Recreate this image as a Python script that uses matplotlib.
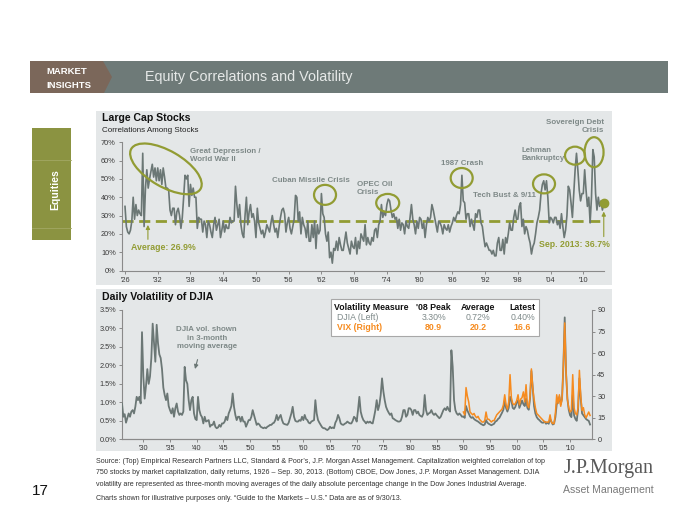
import numpy as np
import matplotlib
matplotlib.use("Agg")
import matplotlib.pyplot as plt
from matplotlib.patches import Rectangle, Polygon, Ellipse
import matplotlib.transforms as mtrans

# ---------------- data ----------------
corr_start = 1926.0          # quarterly values, % correlation among large caps
corr_values = [
    35, 24, 21, 20,  22, 27, 40, 28,  36, 30, 33, 31,  30, 64, 24, 45,
    55, 45, 50, 54,  58, 51, 56, 49,  56, 49, 55, 47,  56, 51, 45, 45,
    44, 33, 30, 34,  34, 25, 32, 34,  30, 23, 29, 40,  52, 50, 52, 35,
    47, 41, 45, 40,  40, 23, 29, 28,                                     # 1926-1939
    28, 21, 27, 25,  18, 27, 25, 21,  18, 25, 29, 22,  25, 28, 18, 22,
    27, 21, 25, 23,  23, 29, 26, 27,  27, 46, 36, 29,  36, 25, 20, 18,
    30, 40, 25, 32,  36, 29, 31, 27,                                     # 1940-1949
    18, 34, 26, 23,  20, 22, 18, 21,  25, 23, 21, 26,  30, 25, 21, 23,
    18, 24, 29, 33,  34, 31, 21, 26,  29, 23, 20, 24,  28, 41, 40, 27,
    32, 20, 29, 25,  23, 18, 27, 16,                                     # 1950-1959
    16, 25, 18, 27,  12, 25, 20, 22,  42, 31, 29, 20,  16, 21, 7, 10,
    4, 12, 11, 16,   11, 18, 14, 11,  11, 16, 21, 15,  12, 9, 16, 13,
    12, 18, 9, 16,   12, 20, 18, 16,                                     # 1960-1969
    25, 14, 18, 15,  14, 18, 16, 22,  23, 18, 25, 27,  36, 29, 32, 30,
    36, 39, 38, 33,  29, 31, 28, 29,  23, 28, 22, 26,  25, 20, 27, 24,
    23, 29, 36, 28,  25, 20, 27, 23,                                     # 1970-1979
    29, 28, 23, 26,  18, 25, 29, 27,  29, 36, 33, 29,  25, 21, 27, 26,
    24, 20, 25, 23,  22, 25, 21, 24,  26, 29, 27, 30,  32, 31, 36, 52,
    38, 37, 28, 31,  31, 24, 28, 25,                                     # 1980-1989
    22, 31, 29, 33,  33, 26, 24, 18,  13, 15, 13, 11,  11, 9, 11, 8,
    8, 15, 18, 11,   11, 17, 9, 18,   15, 20, 26, 22,  22, 29, 33, 28,
    28, 35, 37, 24,  28, 20, 24, 22,                                     # 1990-1999
    18, 15, 9, 13,   15, 20, 26, 29,  33, 42, 47, 49,  44, 49, 40, 26,
    29, 28, 26, 29,  29, 25, 27, 23,  31, 24, 18, 22,  30, 46, 44, 37,
    29, 42, 55, 64,  55, 44, 38, 42,                                     # 2000-2009
    42, 55, 44, 35,  40, 26, 40, 66,  62, 42, 33, 40,  35, 38, 33, 36.7, # 2010-2013
]
corr_average = 26.9
corr_latest = 36.7
corr_latest_label = "Sep. 2013: 36.7%"
corr_ticks = list(range(1926, 2011, 6))
corr_yticks = [0, 10, 20, 30, 40, 50, 60, 70]

vol_start = 1926.0           # quarterly, DJIA daily vol (3-month avg), %
vol_values = [
    0.97, 0.61, 0.68, 0.45,  0.57, 0.70, 0.61, 0.75,  0.79, 0.70, 0.88, 1.15,
    1.06, 1.15, 0.97, 2.90,  1.70, 1.10, 1.45, 1.90,  1.50, 1.70, 2.20, 3.13,
    2.60, 2.10, 3.10, 2.60,  2.30, 2.20, 1.90, 1.40,  1.20, 1.06, 1.24, 0.90,
    0.79, 0.70, 0.84, 0.61,  0.84, 0.97, 0.75, 0.66,  0.70, 0.66, 0.75, 1.96,
    1.60, 1.50, 1.06, 0.79,  1.06, 1.15, 0.70, 0.55,                    # 1926-1939
    0.52, 1.15, 0.79, 0.66,  0.60, 0.43, 0.61, 0.48,  0.50, 0.52, 0.34, 0.39,
    0.39, 0.48, 0.34, 0.30,  0.32, 0.39, 0.34, 0.43,  0.43, 0.48, 0.61, 0.52,
    0.70, 0.79, 0.90, 1.24,  0.88, 0.66, 0.52, 0.61,  0.61, 0.48, 0.61, 0.48,
    0.48, 0.34, 0.43, 0.52,                                              # 1940-1949
    0.52, 0.61, 0.79, 0.66,  0.52, 0.39, 0.43, 0.40,  0.34, 0.32, 0.30, 0.32,
    0.30, 0.34, 0.36, 0.39,  0.39, 0.43, 0.45, 0.52,  0.66, 0.52, 0.60, 0.66,
    0.52, 0.43, 0.41, 0.40,  0.39, 0.45, 0.57, 0.70,  0.88, 0.61, 0.50, 0.48,
    0.48, 0.52, 0.50, 0.61,                                              # 1950-1959
    0.52, 0.66, 0.55, 0.52,  0.45, 0.43, 0.48, 0.50,  0.52, 1.06, 0.70, 0.52,
    0.45, 0.39, 0.33, 0.30,  0.30, 0.27, 0.25, 0.28,  0.34, 0.30, 0.32, 0.30,
    0.45, 0.52, 0.66, 0.57,  0.43, 0.40, 0.39, 0.42,  0.44, 0.48, 0.45, 0.43,
    0.43, 0.50, 0.61, 0.57,                                              # 1960-1969
    0.48, 0.79, 1.15, 0.75,  0.61, 0.52, 0.48, 0.43,  0.48, 0.45, 0.48, 0.44,
    0.43, 0.60, 0.79, 1.06,  0.79, 0.93, 1.20, 1.65,  1.30, 1.06, 0.88, 0.79,
    0.72, 0.66, 0.70, 0.57,  0.55, 0.52, 0.50, 0.48,  0.48, 0.50, 0.61, 0.79,
    0.79, 0.61, 0.66, 0.84,                                              # 1970-1979
    0.84, 0.79, 0.66, 0.79,  0.79, 0.70, 0.75, 0.66,  0.63, 0.61, 0.70, 1.20,
    0.79, 0.66, 0.70, 0.72,  0.79, 0.70, 0.66, 0.70,  0.65, 0.61, 0.57, 0.61,
    0.70, 0.79, 0.84, 0.79,  0.88, 0.80, 0.75, 2.41,  1.96, 1.06, 0.79, 0.70,
    0.66, 0.70, 0.66, 0.61,                                              # 1980-1989
    0.62, 0.58, 0.90, 0.78,  0.70, 0.62, 0.58, 0.60,  0.55, 0.52, 0.50, 0.48,
    0.45, 0.42, 0.40, 0.38,  0.40, 0.52, 0.45, 0.42,  0.40, 0.38, 0.40, 0.42,
    0.48, 0.50, 0.55, 0.58,  0.65, 0.72, 0.80, 1.05,  0.85, 0.75, 0.85, 1.15,
    1.05, 0.85, 0.82, 0.88,                                              # 1990-1999
    1.00, 1.05, 0.85, 0.95,  1.05, 0.95, 0.90, 1.10,  0.85, 0.80, 1.10, 1.85,
    1.40, 0.90, 0.70, 0.60,  0.55, 0.52, 0.48, 0.45,  0.45, 0.48, 0.42, 0.45,
    0.42, 0.55, 0.48, 0.40,  0.42, 0.60, 0.95, 1.00,  1.15, 0.95, 1.10, 2.00,
    3.30, 1.80, 1.10, 0.80,                                              # 2000-2009
    0.65, 0.60, 1.20, 0.65,  0.55, 0.50, 0.80, 1.65,  1.10, 0.70, 0.65, 0.60,
    0.55, 0.52, 0.50, 0.40,                                              # 2010-2013
]
vix_start = 1990.0           # quarterly VIX level
vix_values = [
    19, 17, 36, 30,  26, 19, 18, 17,  18, 16, 15, 16,  14, 13, 12, 12,
    13, 19, 14, 14,  13, 12, 13, 13,  15, 17, 18, 19,  20, 21, 24, 31,
    24, 21, 26, 45,  29, 25, 24, 25,                                     # 1990-1999
    27, 31, 24, 28,  29, 33, 26, 38,  24, 22, 30, 49,  36, 28, 22, 18,
    17, 16, 15, 14,  13, 12, 12, 12,  12, 17, 12, 11,  11, 18, 31, 25,
    31, 23, 28, 52,  81, 47, 28, 22,                                     # 2000-2009
    19, 20, 45, 22,  18, 17, 22, 48,  30, 20, 22, 17,  15, 17, 19, 16.6, # 2010-2013
]
vol_ticks = list(range(1930, 2011, 5))
vol_yticks = [0.0, 0.5, 1.0, 1.5, 2.0, 2.5, 3.0, 3.5]
vix_yticks = [0, 15, 30, 45, 60, 75, 90]

table_header = ["Volatility Measure", "'08 Peak", "Average", "Latest"]
table_djia = ["DJIA (Left)", "3.30%", "0.72%", "0.40%"]
table_vix = ["VIX (Right)", "80.9", "20.2", "16.6"]

events = [  # label, x (year), y (%), ha
    ("Great Depression /\nWorld War II", 1938.0, 62.6, "left"),
    ("Cuban Missile Crisis", 1952.9, 49.1, "left"),
    ("OPEC Oil\nCrisis", 1968.5, 44.7, "left"),
    ("1987 Crash", 1984.0, 58.6, "left"),
    ("Tech Bust & 9/11", 1989.7, 40.9, "left"),
    ("Lehman\nBankruptcy", 1998.6, 63.5, "left"),
    ("Sovereign Debt\nCrisis", 2013.85, 78.5, "right"),
]
circles = [  # year, %, width px, height px, angle
    (1933.5, 55.5, 80, 36, -30),
    (1962.66, 41.3, 22, 20, 0),
    (1974.15, 36.9, 23, 18, 0),
    (1987.71, 50.5, 22, 20, 0),
    (2002.8, 47.3, 22, 19, 0),
    (2008.48, 62.7, 20, 18, 0),
    (2011.97, 64.6, 19, 30, 0),
]

# ---------------- style ----------------
W, H = 700, 525
SANS = ["Liberation Sans", "DejaVu Sans"]
SERIF = ["Liberation Serif", "DejaVu Serif"]
plt.rcParams["font.family"] = SANS

OLIVE = "#929c33"
GRAYLINE = "#6b7775"
GRAYTXT = "#7e8988"
ORANGE = "#f68b1f"
PANEL = "#e4e7e8"
TICKC = "#3a3a3a"
SPINE = "#8a8a8a"

fig = plt.figure(figsize=(W / 100, H / 100), dpi=100)
fig.patch.set_facecolor("white")


def fp(x, y):
    return (x / W, 1 - y / H)


def frect(x0, y0, x1, y1, **kw):
    fig.patches.append(Rectangle(fp(x0, y1), (x1 - x0) / W, (y1 - y0) / H,
                                 transform=fig.transFigure, **kw))


def ftext(x, y, s, **kw):
    fig.text(x / W, 1 - y / H, s, **kw)


# header
frect(30, 61, 668, 93, fc="#6e7a78", ec="none", zorder=-5)
fig.patches.append(Polygon([fp(30, 61), fp(103, 61), fp(112, 77), fp(104, 93), fp(30, 93)],
                           closed=True, transform=fig.transFigure, fc="#7b675a", ec="none", zorder=-4))
ftext(46, 71, "MARKET", color="white", fontsize=6.8, fontweight="bold", va="center")
ftext(46, 85, "INSIGHTS", color="white", fontsize=6.8, fontweight="bold", va="center")
ftext(145, 77, "Equity Correlations and Volatility", color="#e6e9e8", fontsize=10.4, va="center")

# side tab
frect(32, 128, 71, 240, fc="#8b9341", ec="none", zorder=-5)
for yy in (160, 228):
    fig.lines.append(plt.Line2D([32 / W, 71 / W], [1 - yy / H, 1 - yy / H],
                                transform=fig.transFigure, color="#a2a864", lw=0.6))
ftext(55, 190, "Equities", color="white", fontsize=7.5, fontweight="bold",
      rotation=90, ha="center", va="center")

# panels
frect(96, 111, 612, 285, fc=PANEL, ec="none", zorder=-5)
frect(96, 288.5, 612, 451, fc=PANEL, ec="none", zorder=-5)

# ---------------- top chart ----------------
x0_top, x1_top = 1925.45, 2013.85
pxy = 5.456
axL, axB = 122, 270.5
axT = 142.3
axR = axL + (x1_top - x0_top) * pxy
ax1 = fig.add_axes([axL / W, 1 - axB / H, (axR - axL) / W, (axB - axT) / H])
ax1.set_facecolor("none")
corr_years = corr_start + 0.25 * np.arange(len(corr_values))
ax1.plot(corr_years, corr_values, color=GRAYLINE, lw=1.2, zorder=3)
ax1.axhline(corr_average, color=OLIVE, lw=2.0, ls=(0, (4, 2)), zorder=2)
ax1.plot([corr_years[-1]], [corr_latest], "o", color=OLIVE, ms=6, zorder=4, clip_on=False)
ax1.set_xlim(x0_top, x1_top)
ax1.set_ylim(0, 70)
ax1.set_xticks(corr_ticks)
ax1.set_xticklabels(["'%02d" % (t % 100) for t in corr_ticks])
ax1.set_yticks(corr_yticks)
ax1.set_yticklabels(["%d%%" % t for t in corr_yticks])
for sp in ("top", "right"):
    ax1.spines[sp].set_visible(False)
for sp in ("left", "bottom"):
    ax1.spines[sp].set_color(SPINE)
    ax1.spines[sp].set_linewidth(0.8)
ax1.tick_params(axis="both", length=2.5, width=0.7, color=SPINE, labelcolor=TICKC, pad=2)
for lab in ax1.get_xticklabels() + ax1.get_yticklabels():
    lab.set_fontsize(5.3)

for (xd, yd, w, h, ang) in circles:
    tr = mtrans.Affine2D() + mtrans.ScaledTranslation(xd, yd, ax1.transData)
    ax1.add_patch(Ellipse((0, 0), w, h, angle=ang, transform=tr, fill=False,
                          ec=OLIVE, lw=1.6, clip_on=False, zorder=5))
for (lab, xd, yd, ha) in events:
    ax1.text(xd, yd, lab, ha=ha, va="center", multialignment=ha, color=GRAYTXT,
             fontsize=5.7, fontweight="bold", linespacing=1.25, clip_on=False)

ax1.annotate("", xy=(1930.2, corr_average - 0.5), xytext=(1930.2, 15.5),
             arrowprops=dict(arrowstyle="-|>", color=OLIVE, lw=0.8, mutation_scale=6))
ax1.text(1927.1, 12.3, "Average: %.1f%%" % corr_average, color=OLIVE, fontsize=6.3,
         fontweight="bold", va="center", ha="left")
ax1.annotate("", xy=(corr_years[-1], corr_latest - 3), xytext=(corr_years[-1], 17),
             arrowprops=dict(arrowstyle="-|>", color=OLIVE, lw=0.8, mutation_scale=6),
             annotation_clip=False)
ax1.text(2014.9, 14.3, corr_latest_label, color=OLIVE, fontsize=6.3, fontweight="bold",
         va="center", ha="right", clip_on=False)

ftext(101.5, 118, "Large Cap Stocks", fontsize=7.6, fontweight="bold", color="#111111", va="center")
ftext(101.5, 131, "Correlations Among Stocks", fontsize=5.8, color="#222222", va="center")

# ---------------- bottom chart ----------------
x0_b, pxb = 1926.0, 5.334
bL, bB, bT, bR = 122, 439.3, 310, 591.7
x1_b = x0_b + (bR - bL) / pxb
ax2 = fig.add_axes([bL / W, 1 - bB / H, (bR - bL) / W, (bB - bT) / H])
ax2.set_facecolor("none")
vol_years = vol_start + 0.25 * np.arange(len(vol_values))
ax2.plot(vol_years, vol_values, color=GRAYLINE, lw=1.3, zorder=3)
ax2.set_xlim(x0_b, x1_b)
ax2.set_ylim(0, 3.5)
ax2.set_xticks(vol_ticks)
ax2.set_xticklabels(["'%02d" % (t % 100) for t in vol_ticks])
ax2.set_yticks(vol_yticks)
ax2.set_yticklabels(["%.1f%%" % t for t in vol_yticks])

ax2r = ax2.twinx()
vix_years = vix_start + 0.25 * np.arange(len(vix_values))
ax2r.plot(vix_years, vix_values, color=ORANGE, lw=1.1, zorder=4)
ax2r.set_ylim(0, 90)
ax2r.set_yticks(vix_yticks)
ax2r.set_yticklabels([str(t) for t in vix_yticks])
ax2r.set_xlim(x0_b, x1_b)

for a in (ax2, ax2r):
    a.spines["top"].set_visible(False)
    for sp in ("left", "bottom", "right"):
        a.spines[sp].set_color(SPINE)
        a.spines[sp].set_linewidth(0.8)
    a.tick_params(axis="both", length=2.5, width=0.7, color=SPINE, labelcolor=TICKC, pad=1.5)
    for lab in a.get_xticklabels() + a.get_yticklabels():
        lab.set_fontsize(5.3)
ax2.spines["right"].set_visible(False)
ax2r.spines["left"].set_visible(False)

ax2.text(1941.9, 2.73, "DJIA vol. shown\nin 3-month\nmoving average", ha="center", va="center",
         color=GRAYTXT, fontsize=5.7, fontweight="bold", linespacing=1.3)
ax2.annotate("", xy=(1939.55, 1.83), xytext=(1940.3, 2.23),
             arrowprops=dict(arrowstyle="-|>", color=GRAYLINE, lw=0.8, mutation_scale=6))

ftext(101.5, 297.5, "Daily Volatility of DJIA", fontsize=7.6, fontweight="bold", color="#111111", va="center")

# table box
frect(330.5, 299, 538.5, 335.5, fc="white", ec="#a8a8a8", lw=0.8, zorder=5)
col_x = [334, 433.8, 478.2, 522.5]
rows = [(table_header, 307.5, "#111111", "bold"),
        (table_djia, 318, "#7f8a8a", "normal"),
        (table_vix, 328, ORANGE, "bold")]
for vals, yy, colr, wt in rows:
    for i, s in enumerate(vals):
        if i == 0:
            xx, ha = (col_x[0], "left") if vals is table_header else (col_x[0] + 3, "left")
        else:
            xx, ha = col_x[i], "center"
        ftext(xx, yy, s, fontsize=6.3, fontweight=wt, color=colr, ha=ha, va="center", zorder=6)

# ---------------- footer ----------------
foot = [
    "Source: (Top) Empirical Research Partners LLC, Standard & Poor\u2019s, J.P. Morgan Asset Management. Capitalization weighted correlation of top",
    "750 stocks by market capitalization, daily returns, 1926 \u2013 Sep. 30, 2013. (Bottom) CBOE, Dow Jones, J.P. Morgan Asset Management. DJIA",
    "volatility are represented as three-month moving averages of the daily absolute percentage change in the Dow Jones Industrial Average.",
    "Charts shown for illustrative purposes only. \u201cGuide to the Markets \u2013 U.S.\u201d Data are as of 9/30/13.",
]
for s, yy in zip(foot, (461.5, 472.5, 484.5, 498)):
    ftext(96.5, yy, s, fontsize=5.15, color="#333333", va="center")
ftext(40, 491, "17", fontsize=11, color="#111111", va="center", ha="center")
ftext(608.5, 469, "J.P.Morgan", fontsize=14.5, family=SERIF, color="#595959", va="center", ha="center")
ftext(608.5, 490, "Asset Management", fontsize=7.6, color="#7a7a7a", va="center", ha="center")

fig.savefig("out.png", dpi=100)
